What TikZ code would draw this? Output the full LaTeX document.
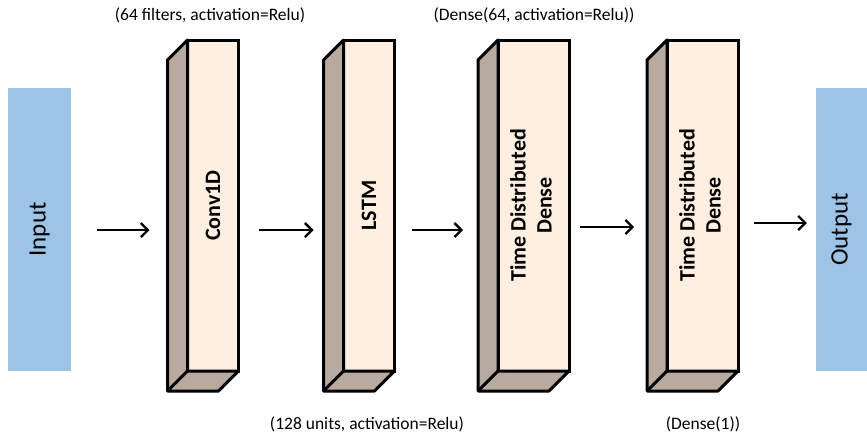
\documentclass[tikz,border=0pt]{standalone}
\usepackage{fontspec}
\setmainfont{Carlito}
\usepackage{tikz}
\usetikzlibrary{arrows.meta,positioning}

\definecolor{iobox}{RGB}{157,195,230}
\definecolor{cream}{RGB}{255,239,224}
\definecolor{tan}{RGB}{185,170,160}

\tikzset{
  iorect/.style={fill=iobox,minimum width=63pt,minimum height=283pt,inner sep=0pt,font=\fontsize{25}{30}\selectfont},
  front/.style={draw,fill=cream,line width=3pt,outer sep=0pt,inner sep=0pt,minimum height=331pt,align=center,font=\fontsize{22}{26}\selectfont\bfseries},
  side/.style={draw,fill=tan,line width=3pt,line join=round},
  arr/.style={-{Straight Barb[length=7pt,width=14pt]},line width=2.3pt},
  note/.style={font=\fontsize{17.5}{20}\selectfont}
}

\begin{document}
\begin{tikzpicture}[x=1pt,y=-1pt]
\useasboundingbox (0,0) rectangle (867,442);
\node[iorect] (in) at (39.5,229.5){\rotatebox{90}{Input}};
\node[iorect,minimum width=51pt] (out) at (841.5,229.5){\rotatebox{90}{Output}};
% layers
\node[front,minimum width=51pt] (conv) at (213,205.5){\rotatebox{90}{Conv1D}};
\node[front,minimum width=51pt] (lstm) at (369,205.5){\rotatebox{90}{LSTM}};
\node[front,minimum width=71pt] (tdd1) at (533.5,205.5){\rotatebox{90}{\begin{tabular}{c}Time Distributed\\Dense\end{tabular}}};
\node[front,minimum width=71pt] (tdd2) at (702.5,205.5){\rotatebox{90}{\begin{tabular}{c}Time Distributed\\Dense\end{tabular}}};
\foreach \b in {conv,lstm,tdd1,tdd2}{
  \coordinate (\b-back) at ([shift={(-20,20)}]\b.south west);
  \filldraw[side] (\b.north west) -- ++(-20,20) -- (\b-back) -- ([shift={(-20,20)}]\b.south east) -- (\b.south east) -- (\b.south west) -- cycle;
  \draw[line width=3pt] (\b.south west) -- (\b-back);
}
% arrows
\coordinate (ya) at (0,230);
\coordinate (yb) at (0,227);
\coordinate (yc) at (0,223);
\draw[arr,shorten <=26pt,shorten >=18pt] (in.east |- ya) -- (conv-back |- ya);
\draw[arr,shorten <=20pt,shorten >=10pt] (conv.east |- ya) -- (lstm-back |- ya);
\draw[arr,shorten <=17pt,shorten >=15pt] (lstm.east |- ya) -- (tdd1-back |- ya);
\draw[arr,shorten <=11pt,shorten >=13pt] (tdd1.east |- yb) -- (tdd2-back |- yb);
\draw[arr,shorten <=16pt,shorten >=9pt] (tdd2.east |- yc) -- (out.west |- yc);
% notes
\node[note] (n1) at (210,15){(64 filters, activation=Relu)};
\node[note] (n2) at (534,15){(Dense(64, activation=Relu))};
\node[note] (n3) at (367,424){(128 units, activation=Relu)};
\node[note] (n4) at (703,424){(Dense(1))};
\end{tikzpicture}
\end{document}
